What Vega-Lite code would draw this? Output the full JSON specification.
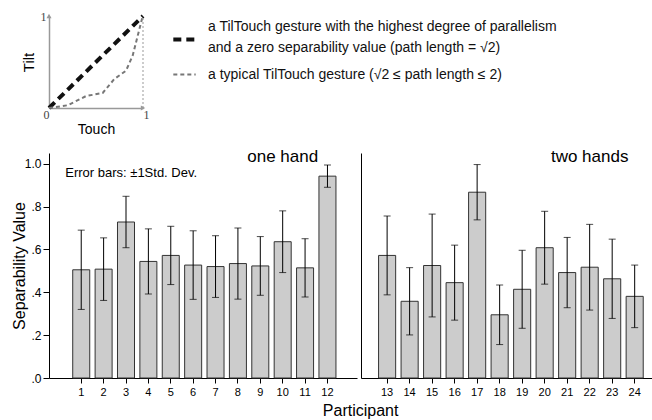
{
  "$schema": "https://vega.github.io/schema/vega-lite/v6.json",
  "background": "white",
  "padding": {"left": 11, "top": 8, "right": 0, "bottom": 0},
  "datasets": {
    "sep": [
      {"participant": 1, "hand": "one", "mean": 0.505, "sd": 0.185},
      {"participant": 2, "hand": "one", "mean": 0.508, "sd": 0.146},
      {"participant": 3, "hand": "one", "mean": 0.728, "sd": 0.12},
      {"participant": 4, "hand": "one", "mean": 0.544, "sd": 0.152},
      {"participant": 5, "hand": "one", "mean": 0.572, "sd": 0.136},
      {"participant": 6, "hand": "one", "mean": 0.527, "sd": 0.16},
      {"participant": 7, "hand": "one", "mean": 0.52, "sd": 0.144},
      {"participant": 8, "hand": "one", "mean": 0.534, "sd": 0.166},
      {"participant": 9, "hand": "one", "mean": 0.523, "sd": 0.137},
      {"participant": 10, "hand": "one", "mean": 0.636, "sd": 0.144},
      {"participant": 11, "hand": "one", "mean": 0.514, "sd": 0.136},
      {"participant": 12, "hand": "one", "mean": 0.942, "sd": 0.052},
      {"participant": 13, "hand": "two", "mean": 0.572, "sd": 0.184},
      {"participant": 14, "hand": "two", "mean": 0.358, "sd": 0.157},
      {"participant": 15, "hand": "two", "mean": 0.525, "sd": 0.24},
      {"participant": 16, "hand": "two", "mean": 0.445, "sd": 0.175},
      {"participant": 17, "hand": "two", "mean": 0.867, "sd": 0.129},
      {"participant": 18, "hand": "two", "mean": 0.295, "sd": 0.139},
      {"participant": 19, "hand": "two", "mean": 0.414, "sd": 0.182},
      {"participant": 20, "hand": "two", "mean": 0.608, "sd": 0.17},
      {"participant": 21, "hand": "two", "mean": 0.492, "sd": 0.164},
      {"participant": 22, "hand": "two", "mean": 0.517, "sd": 0.2},
      {"participant": 23, "hand": "two", "mean": 0.463, "sd": 0.185},
      {"participant": 24, "hand": "two", "mean": 0.381, "sd": 0.146}
    ],
    "gestures": [
      {"gesture": "a TilTouch gesture with the highest degree of parallelism\nand a zero separability value (path length = √2)", "touch": 0, "tilt": 0},
      {"gesture": "a TilTouch gesture with the highest degree of parallelism\nand a zero separability value (path length = √2)", "touch": 1, "tilt": 1},
      {"gesture": "a typical TilTouch gesture (√2 ≤ path length ≤ 2)", "touch": 0, "tilt": 0},
      {"gesture": "a typical TilTouch gesture (√2 ≤ path length ≤ 2)", "touch": 0.2, "tilt": 0.03},
      {"gesture": "a typical TilTouch gesture (√2 ≤ path length ≤ 2)", "touch": 0.394, "tilt": 0.13},
      {"gesture": "a typical TilTouch gesture (√2 ≤ path length ≤ 2)", "touch": 0.571, "tilt": 0.163},
      {"gesture": "a typical TilTouch gesture (√2 ≤ path length ≤ 2)", "touch": 0.695, "tilt": 0.315},
      {"gesture": "a typical TilTouch gesture (√2 ≤ path length ≤ 2)", "touch": 0.819, "tilt": 0.405},
      {"gesture": "a typical TilTouch gesture (√2 ≤ path length ≤ 2)", "touch": 0.89, "tilt": 0.569},
      {"gesture": "a typical TilTouch gesture (√2 ≤ path length ≤ 2)", "touch": 0.944, "tilt": 0.786},
      {"gesture": "a typical TilTouch gesture (√2 ≤ path length ≤ 2)", "touch": 0.997, "tilt": 1.0}
    ],
    "arrows": [
      {"dir": "up", "touch": 0, "tilt": 1},
      {"dir": "right", "touch": 1, "tilt": 0}
    ]
  },
  "vconcat": [
    {
      "width": 94,
      "height": 92,
      "layer": [
        {
          "data": {"name": "gestures"},
          "mark": {"type": "line", "strokeCap": "butt"},
          "encoding": {
            "x": {
              "field": "touch", "type": "quantitative",
              "scale": {"domain": [0, 1], "nice": false, "zero": false},
              "axis": {
                "title": "Touch", "values": [0, 1], "format": "d", "ticks": false, "grid": false,
                "domainColor": "#999999", "domainWidth": 1.5,
                "labelFont": "Liberation Serif", "labelFontSize": 12, "labelColor": "#444444",
                "labelPadding": 1, "labelFlush": false,
                "labelAlign": {"condition": {"test": "datum.value == 0", "value": "right"}, "value": "left"},
                "titleFontSize": 14, "titlePadding": 2
              }
            },
            "y": {
              "field": "tilt", "type": "quantitative",
              "scale": {"domain": [0, 1], "nice": false, "zero": false},
              "axis": {
                "title": "Tilt", "values": [1], "format": "d", "ticks": false, "grid": false,
                "domainColor": "#999999", "domainWidth": 1.5,
                "labelFont": "Liberation Serif", "labelFontSize": 12, "labelColor": "#444444",
                "labelPadding": 3, "titleFontSize": 15, "titlePadding": 4
              }
            },
            "color": {
              "field": "gesture", "type": "nominal",
              "scale": {
                "domain": ["a TilTouch gesture with the highest degree of parallelism\nand a zero separability value (path length = √2)", "a typical TilTouch gesture (√2 ≤ path length ≤ 2)"],
                "range": ["#111111", "#777777"]
              },
              "legend": {
                "title": null, "orient": "none", "legendX": 122, "legendY": 10, "padding": 0,
                "symbolType": "stroke", "symbolSize": 500,
                "labelFont": "Liberation Sans", "labelFontSize": 14, "labelColor": "#111111",
                "labelOffset": 10, "labelLimit": 700, "rowPadding": 7,
                "labelExpr": "split(datum.label, '\\n')",
                "encode": {
                  "labels": {
                    "update": {
                      "dy": {"signal": "datum.index == 0 ? -13 : 0"},
                      "lineHeight": {"value": 21}
                    }
                  }
                }
              }
            },
            "strokeDash": {
              "field": "gesture", "type": "nominal",
              "scale": {
                "domain": ["a TilTouch gesture with the highest degree of parallelism\nand a zero separability value (path length = √2)", "a typical TilTouch gesture (√2 ≤ path length ≤ 2)"],
                "range": [[8, 5], [4, 3]]
              }
            },
            "strokeWidth": {
              "field": "gesture", "type": "nominal",
              "scale": {
                "domain": ["a TilTouch gesture with the highest degree of parallelism\nand a zero separability value (path length = √2)", "a typical TilTouch gesture (√2 ≤ path length ≤ 2)"],
                "range": [4, 2]
              }
            }
          }
        },
        {
          "data": {"values": [{}]},
          "mark": {"type": "rule", "color": "#999999", "strokeDash": [2, 2], "strokeWidth": 1},
          "encoding": {"x": {"datum": 1, "type": "quantitative"}, "y": {"datum": 0, "type": "quantitative"}, "y2": {"datum": 1}}
        },
        {
          "data": {"name": "arrows"},
          "mark": {"type": "point", "filled": true, "color": "#999999", "size": 25, "opacity": 1},
          "encoding": {
            "x": {"field": "touch", "type": "quantitative"},
            "y": {"field": "tilt", "type": "quantitative"},
            "shape": {"field": "dir", "type": "nominal", "scale": {"domain": ["up", "right"], "range": ["triangle-up", "triangle-right"]}, "legend": null}
          }
        }
      ]
    },
    {
      "spacing": 4,
      "title": {"text": "Participant", "orient": "bottom", "anchor": "middle", "dx": 29, "fontSize": 16, "fontWeight": "normal", "font": "Liberation Sans", "offset": 6, "color": "#000000"},
      "hconcat": [
        {
          "width": 308,
          "height": 225,
          "data": {"name": "sep"},
          "transform": [{"filter": "datum.hand == 'one'"}],
          "layer": [
            {
              "mark": {"type": "bar", "fill": "#cccccc", "stroke": "#333333", "strokeWidth": 1},
              "encoding": {
                "x": {"field": "participant", "type": "ordinal", "scale": {"paddingInner": 0.24, "paddingOuter": 1.0, "align": 0.53}, "axis": {"title": null, "labelAngle": 0, "tickSize": 5, "labelFontSize": 11, "labelPadding": 3}},
                "y": {"field": "mean", "type": "quantitative", "scale": {"domain": [0, 1.05], "nice": false}, "title": "Separability Value",
                  "axis": {"values": [0, 0.2, 0.4, 0.6, 0.8, 1], "labelExpr": "replace(format(datum.value, '.1f'), '0.', '.')", "tickSize": 6, "labelFontSize": 12, "titleFontSize": 16, "titlePadding": -3}}
              }
            },
            {
              "mark": {"type": "errorbar", "ticks": {"size": 7, "color": "#000000"}, "rule": {"color": "#000000", "strokeWidth": 1}},
              "encoding": {
                "x": {"field": "participant", "type": "ordinal"},
                "y": {"field": "mean", "type": "quantitative", "title": "Separability Value"},
                "yError": {"field": "sd"}
              }
            },
            {
              "data": {"values": [{}]},
              "mark": {"type": "text", "fontSize": 17, "baseline": "middle"},
              "encoding": {"x": {"datum": 10, "type": "ordinal"}, "y": {"datum": 1.03, "type": "quantitative"}, "text": {"value": "one hand"}}
            },
            {
              "data": {"values": [{}]},
              "mark": {"type": "text", "fontSize": 13, "align": "left", "dx": -16, "baseline": "middle"},
              "encoding": {"x": {"datum": 1, "type": "ordinal"}, "y": {"datum": 0.958, "type": "quantitative"}, "text": {"value": "Error bars: ±1Std. Dev."}}
            }
          ]
        },
        {
          "width": 291,
          "height": 225,
          "data": {"name": "sep"},
          "transform": [{"filter": "datum.hand == 'two'"}],
          "layer": [
            {
              "mark": {"type": "bar", "fill": "#cccccc", "stroke": "#333333", "strokeWidth": 1},
              "encoding": {
                "x": {"field": "participant", "type": "ordinal", "scale": {"paddingInner": 0.24, "paddingOuter": 0.585, "align": 0.667}, "axis": {"title": null, "labelAngle": 0, "tickSize": 5, "labelFontSize": 11, "labelPadding": 3}},
                "y": {"field": "mean", "type": "quantitative", "scale": {"domain": [0, 1.05], "nice": false}, "axis": {"title": null, "labels": false, "ticks": false, "domain": true}}
              }
            },
            {
              "mark": {"type": "errorbar", "ticks": {"size": 7, "color": "#000000"}, "rule": {"color": "#000000", "strokeWidth": 1}},
              "encoding": {
                "x": {"field": "participant", "type": "ordinal"},
                "y": {"field": "mean", "type": "quantitative"},
                "yError": {"field": "sd"}
              }
            },
            {
              "data": {"values": [{}]},
              "mark": {"type": "text", "fontSize": 17, "baseline": "middle"},
              "encoding": {"x": {"datum": 22, "type": "ordinal"}, "y": {"datum": 1.03, "type": "quantitative"}, "text": {"value": "two hands"}}
            }
          ]
        }
      ]
    }
  ],
  "spacing": 12,
  "align": "none",
  "config": {
    "font": "Liberation Sans",
    "view": {"stroke": null},
    "axis": {"grid": false, "domainColor": "#000000", "tickColor": "#000000", "labelColor": "#000000", "titleColor": "#000000", "titleFontWeight": "normal", "labelFont": "Liberation Sans", "titleFont": "Liberation Sans"},
    "text": {"font": "Liberation Sans", "color": "#000000"}
  }
}
